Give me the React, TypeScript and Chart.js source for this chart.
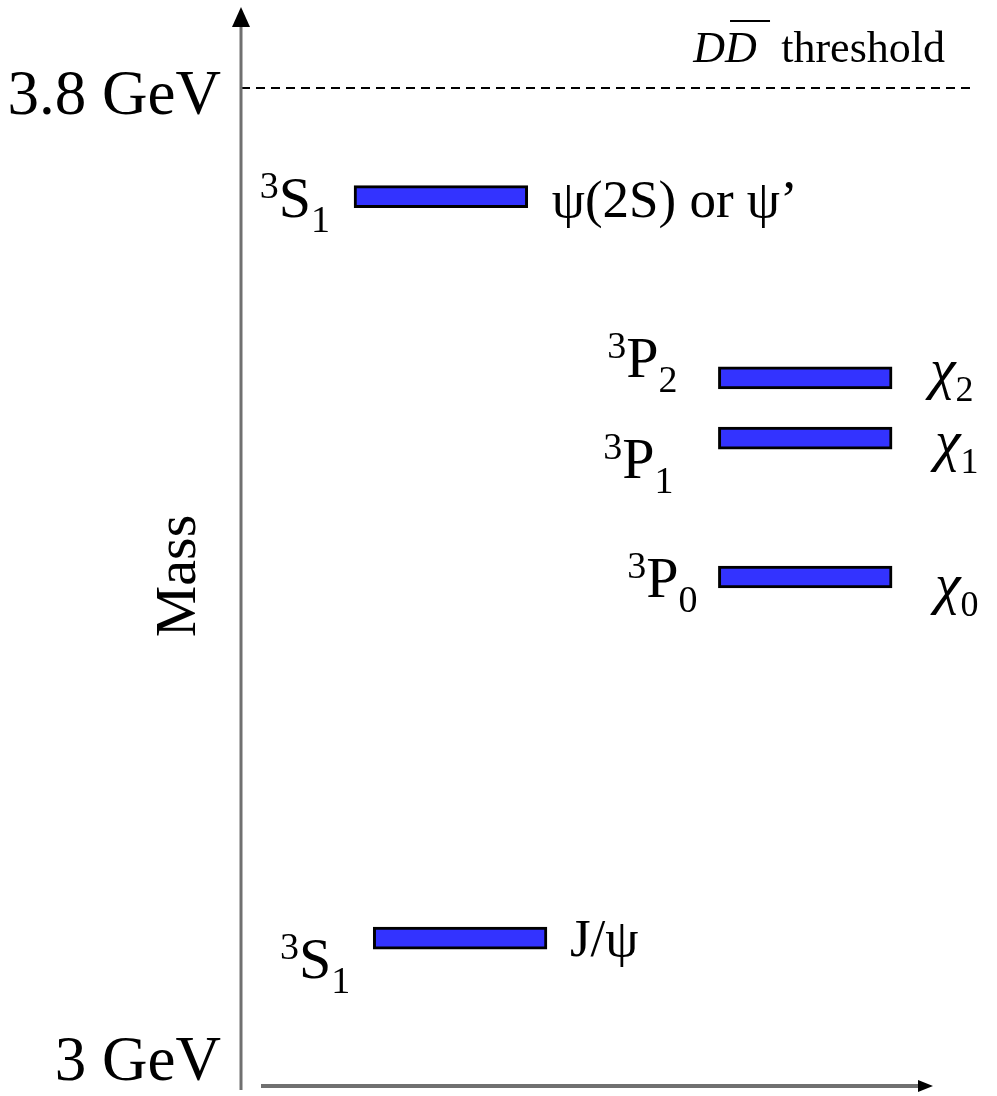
import { useEffect, useRef } from "react";
import { Chart, registerables } from "chart.js";

Chart.register(...registerables);

// Charmonium levels below the open-charm threshold, in GeV
const levelMasses = [3.096, 3.395, 3.51, 3.56, 3.71];
// horizontal extent of each level line on a 0–100 scale
const levelStart = [17.9, 64.6, 64.6, 64.6, 15.3];
const levelEnd = [41.4, 88.1, 88.1, 88.1, 38.8];

// spectroscopic term of each level: multiplicity, orbital letter, J
const termMultiplicity = ["3", "3", "3", "3", "3"];
const termLetter = ["S", "P", "P", "P", "S"];
const termJ = ["1", "0", "1", "2", "1"];

// particle names, with an optional subscript
const particleName = ["J/ψ", "χ", "χ", "χ", "ψ(2S) or ψ’"];
const particleSub = ["", "0", "1", "2", ""];

// mass axis
const massTicks = [3.0, 3.8];
const massTickLabels = ["3 GeV", "3.8 GeV"];
const axisTitle = "Mass";

// open-charm threshold
const thresholdMass = 3.8;
const thresholdSpan = [0, 99.3];

const SERIF = '"Liberation Serif", "Times New Roman", serif';

// label placement around each level line (pixels)
const termGap = [23, 21, 45, 41, 24];
const termDrop = [40, 20, 40, -1, 20];
const nameGap = [23, 43, 43, 38, 24];
const nameDrop = [18, 26, 22, 10, 20];

const TERM_MAIN = 58;
const TERM_SMALL = 38;
const NAME_SIZE = 53;
const CHI_SIZE = 58;
const NAME_SUB = 36;

const levelLabels = {
  id: "levelLabels",
  afterDatasetsDraw(chart: any) {
    const ctx = chart.ctx as CanvasRenderingContext2D;
    const meta = chart.getDatasetMeta(0);
    ctx.save();
    ctx.fillStyle = "#000";
    ctx.textBaseline = "alphabetic";
    ctx.textAlign = "left";
    meta.data.forEach((bar: any, i: number) => {
      const { x, y, base } = bar.getProps(["x", "y", "base"], true);
      const left = Math.min(x, base);
      const right = Math.max(x, base);

      // term symbol, e.g. ³S₁
      const tBase = y + termDrop[i];
      ctx.font = `${TERM_SMALL}px ${SERIF}`;
      const wSup = ctx.measureText(termMultiplicity[i]).width;
      const wSub = ctx.measureText(termJ[i]).width;
      ctx.font = `${TERM_MAIN}px ${SERIF}`;
      const wMain = ctx.measureText(termLetter[i]).width;
      const x0 = left - termGap[i] - (wSup + wMain + wSub);
      ctx.font = `${TERM_SMALL}px ${SERIF}`;
      ctx.fillText(termMultiplicity[i], x0, tBase - 19);
      ctx.fillText(termJ[i], x0 + wSup + wMain, tBase + 15);
      ctx.font = `${TERM_MAIN}px ${SERIF}`;
      ctx.fillText(termLetter[i], x0 + wSup, tBase);

      // particle name (χ states set in italic, as in the symbol font)
      const nBase = y + nameDrop[i];
      const nx = right + nameGap[i];
      if (particleSub[i]) {
        ctx.font = `italic ${CHI_SIZE}px ${SERIF}`;
        ctx.fillText(particleName[i], nx, nBase);
        const w = ctx.measureText(particleName[i]).width;
        ctx.font = `${NAME_SUB}px ${SERIF}`;
        ctx.fillText(particleSub[i], nx + w, nBase + 13);
      } else {
        ctx.font = `${NAME_SIZE}px ${SERIF}`;
        ctx.fillText(particleName[i], nx, nBase);
      }
    });
    ctx.restore();
  },
};

const axesAndNotes = {
  id: "axesAndNotes",
  afterDraw(chart: any) {
    const ctx = chart.ctx as CanvasRenderingContext2D;
    const { left, top, bottom, right } = chart.chartArea;
    const yScale = chart.scales.y;
    ctx.save();

    // vertical mass axis with arrow
    ctx.strokeStyle = "#707070";
    ctx.lineWidth = 3;
    ctx.beginPath();
    ctx.moveTo(left, top - 2);
    ctx.lineTo(left, bottom);
    ctx.stroke();
    ctx.fillStyle = "#000";
    ctx.beginPath();
    ctx.moveTo(left, top - 21);
    ctx.lineTo(left - 9, top - 1);
    ctx.lineTo(left + 9, top - 1);
    ctx.closePath();
    ctx.fill();

    // horizontal arrow along the bottom
    const ax = bottom - 4;
    ctx.strokeStyle = "#707070";
    ctx.lineWidth = 4;
    ctx.beginPath();
    ctx.moveTo(left + 20, ax);
    ctx.lineTo(right - 60, ax);
    ctx.stroke();
    ctx.fillStyle = "#000";
    ctx.beginPath();
    ctx.moveTo(right - 47, ax);
    ctx.lineTo(right - 62, ax - 6);
    ctx.lineTo(right - 62, ax + 6);
    ctx.closePath();
    ctx.fill();

    // axis title
    ctx.save();
    ctx.translate(195, (top + bottom) / 2 + 17);
    ctx.rotate(-Math.PI / 2);
    ctx.font = `58px ${SERIF}`;
    ctx.textAlign = "center";
    ctx.textBaseline = "alphabetic";
    ctx.fillStyle = "#000";
    ctx.fillText(axisTitle, 0, 0);
    ctx.restore();

    // threshold label: D D̄ threshold
    const ty = yScale.getPixelForValue(thresholdMass) - 26;
    ctx.fillStyle = "#000";
    ctx.textBaseline = "alphabetic";
    ctx.textAlign = "left";
    ctx.font = `44px ${SERIF}`;
    const word = "threshold";
    const wWord = ctx.measureText(word).width;
    const wx = right - 35 - wWord;
    ctx.fillText(word, wx, ty);
    ctx.font = `italic 44px ${SERIF}`;
    const wD = ctx.measureText("D").width;
    const dx = wx - 88;
    ctx.fillText("D", dx, ty);
    ctx.fillText("D", dx + wD, ty);
    ctx.strokeStyle = "#000";
    ctx.lineWidth = 2;
    ctx.beginPath();
    ctx.moveTo(dx + wD + 5, ty - 41);
    ctx.lineTo(dx + wD + 45, ty - 41);
    ctx.stroke();

    ctx.restore();
  },
};

export default function App() {
  const canvasRef = useRef<HTMLCanvasElement>(null);

  useEffect(() => {
    const canvas = canvasRef.current;
    if (!canvas) return;
    const chart = new Chart(canvas, {
      type: "bar",
      data: {
        datasets: [
          {
            type: "bar",
            indexAxis: "y",
            data: levelMasses.map((m, i) => ({ y: m, x: [levelStart[i], levelEnd[i]] })),
            backgroundColor: "#3333ff",
            borderColor: "#000000",
            borderWidth: 3,
            borderSkipped: false,
            barThickness: 22,
          } as any,
          {
            type: "line",
            data: thresholdSpan.map((x) => ({ x, y: thresholdMass })),
            borderColor: "#000000",
            borderWidth: 2,
            borderDash: [9, 6],
            pointRadius: 0,
            fill: false,
          } as any,
        ],
      },
      options: {
        responsive: false,
        animation: false,
        devicePixelRatio: 1,
        events: [],
        layout: { padding: { top: 28, bottom: 6, right: 17, left: 0 } },
        plugins: {
          legend: { display: false },
          tooltip: { enabled: false },
        },
        scales: {
          x: {
            type: "linear",
            min: 0,
            max: 100,
            offset: false,
            beginAtZero: false,
            display: false,
          },
          y: {
            type: "linear",
            position: "left",
            min: 2.97019,
            max: 3.84969,
            offset: false,
            beginAtZero: false,
            grid: { display: false, offset: false },
            border: { display: false },
            afterBuildTicks: (scale: any) => {
              scale.ticks = massTicks.map((v) => ({ value: v }));
            },
            afterFit: (scale: any) => {
              scale.width = 241;
              scale.paddingTop = 0;
              scale.paddingBottom = 0;
            },
            ticks: {
              autoSkip: false,
              padding: 12,
              labelOffset: 9,
              color: "#000",
              font: { family: SERIF, size: 63 },
              callback: (v: any) => massTickLabels[massTicks.indexOf(Number(v))] ?? "",
            },
          },
        },
      } as any,
      plugins: [levelLabels, axesAndNotes],
    });
    return () => chart.destroy();
  }, []);

  return (
    <div style={{ position: "fixed", left: 0, top: 0, width: 997, height: 1096, background: "#fff" }}>
      <canvas ref={canvasRef} width={997} height={1096} style={{ display: "block" }} />
    </div>
  );
}
